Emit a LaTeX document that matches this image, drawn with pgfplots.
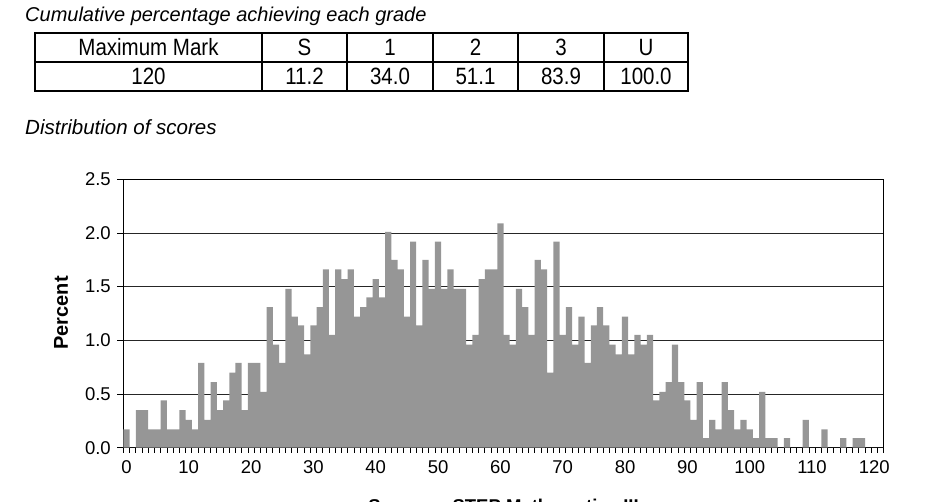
\documentclass[border=0pt]{standalone}
\usepackage{pgfplots}
\pgfplotsset{compat=1.18}
\usepackage{fontspec}
\setmainfont{Liberation Sans}
\definecolor{bargray}{RGB}{150,150,150}
\pgfplotstableread{
x y
0 0.17
1 0
2 0.35
3 0.35
4 0.17
5 0.17
6 0.44
7 0.17
8 0.17
9 0.35
10 0.26
11 0.17
12 0.79
13 0.26
14 0.61
15 0.35
16 0.44
17 0.70
18 0.79
19 0.35
20 0.79
21 0.79
22 0.52
23 1.31
24 0.96
25 0.79
26 1.48
27 1.22
28 1.14
29 0.87
30 1.14
31 1.31
32 1.66
33 1.05
34 1.66
35 1.57
36 1.66
37 1.22
38 1.31
39 1.40
40 1.57
41 1.40
42 2.01
43 1.75
44 1.66
45 1.22
46 1.92
47 1.14
48 1.75
49 1.48
50 1.92
51 1.48
52 1.66
53 1.48
54 1.48
55 0.96
56 1.05
57 1.57
58 1.66
59 1.66
60 2.09
61 1.05
62 0.96
63 1.48
64 1.31
65 1.05
66 1.75
67 1.66
68 0.70
69 1.92
70 1.05
71 1.31
72 0.96
73 1.22
74 0.79
75 1.14
76 1.31
77 1.14
78 0.96
79 0.87
80 1.22
81 0.87
82 1.05
83 0.96
84 1.05
85 0.44
86 0.52
87 0.61
88 0.96
89 0.61
90 0.44
91 0.26
92 0.61
93 0.09
94 0.26
95 0.17
96 0.61
97 0.35
98 0.17
99 0.26
100 0.17
101 0.09
102 0.52
103 0.09
104 0.09
105 0
106 0.09
107 0
108 0
109 0.26
110 0
111 0
112 0.17
113 0
114 0
115 0.09
116 0
117 0.09
118 0.09
119 0
120 0
121 0
}\scores
\begin{document}
\begin{tikzpicture}[x=1pt,y=1pt]
\useasboundingbox (0,0) rectangle (927,-502);
\node[anchor=base west, inner sep=0, font=\fontsize{20}{24}\selectfont\itshape] at (25,-22) {Cumulative percentage achieving each grade};
\draw[line width=1.5pt] (35,-33) rectangle (688,-91);
\draw[line width=1.5pt] (35,-62) -- (688,-62);
\foreach \x in {262,347,433,518,604} \draw[line width=1.5pt] (\x,-33) -- (\x,-91);
\begin{scope}[every node/.style={anchor=base, inner sep=0, yscale=1.15, font=\fontsize{20.5}{24}\selectfont}]
\node at (148.5,-56) {Maximum Mark};
\node at (304.5,-56) {S};
\node at (390,-56) {1};
\node at (475.5,-56) {2};
\node at (561,-56) {3};
\node at (646,-56) {U};
\node at (148.5,-85) {120};
\node at (304.5,-85) {11.2};
\node at (390,-85) {34.0};
\node at (475.5,-85) {51.1};
\node at (561,-85) {83.9};
\node at (646,-85) {100.0};
\end{scope}
\node[anchor=base west, inner sep=0, font=\fontsize{20.5}{24}\selectfont\itshape] at (25,-135) {Distribution of scores};
\node[rotate=90, inner sep=0, font=\fontsize{20}{20}\selectfont\bfseries] at (61,-313) {Percent};
\node[anchor=base, inner sep=0, font=\fontsize{18.5}{18.5}\selectfont\bfseries] at (503.5,-512) {Score on STEP Mathematics III};
\begin{axis}[
  at={(123.3pt,-447.7pt)}, anchor=south west,
  scale only axis, width=760.4pt, height=268.4pt,
  xmin=-0.5, xmax=121.5, ymin=0, ymax=2.5,
  ytick={0,0.5,...,2.5},
  xtick={0,10,...,120},
  minor xtick={-0.5,0.5,...,121.5},
  every major x tick/.append style={draw=none},
  tick align=outside, xtick pos=bottom, ytick pos=left,
  major tick length=6pt, minor tick length=5pt,
  ymajorgrids,
  grid style={black!85, line width=0.8pt},
  axis line style={black, line width=1.4pt},
  tick style={black, line width=0.8pt},
  yticklabel style={xshift=-3pt, /pgf/number format/.cd, fixed, fixed zerofill, precision=1},
  xticklabel style={yshift=-3pt},
  ticklabel style={font=\fontsize{18.5}{18.5}\selectfont},
  /pgf/number format/assume math mode=true,
]
\addplot[ybar, bar width=1, bar shift=0pt, fill=bargray, draw=none] table[x=x,y=y] {\scores};
\end{axis}
\end{tikzpicture}
\end{document}
